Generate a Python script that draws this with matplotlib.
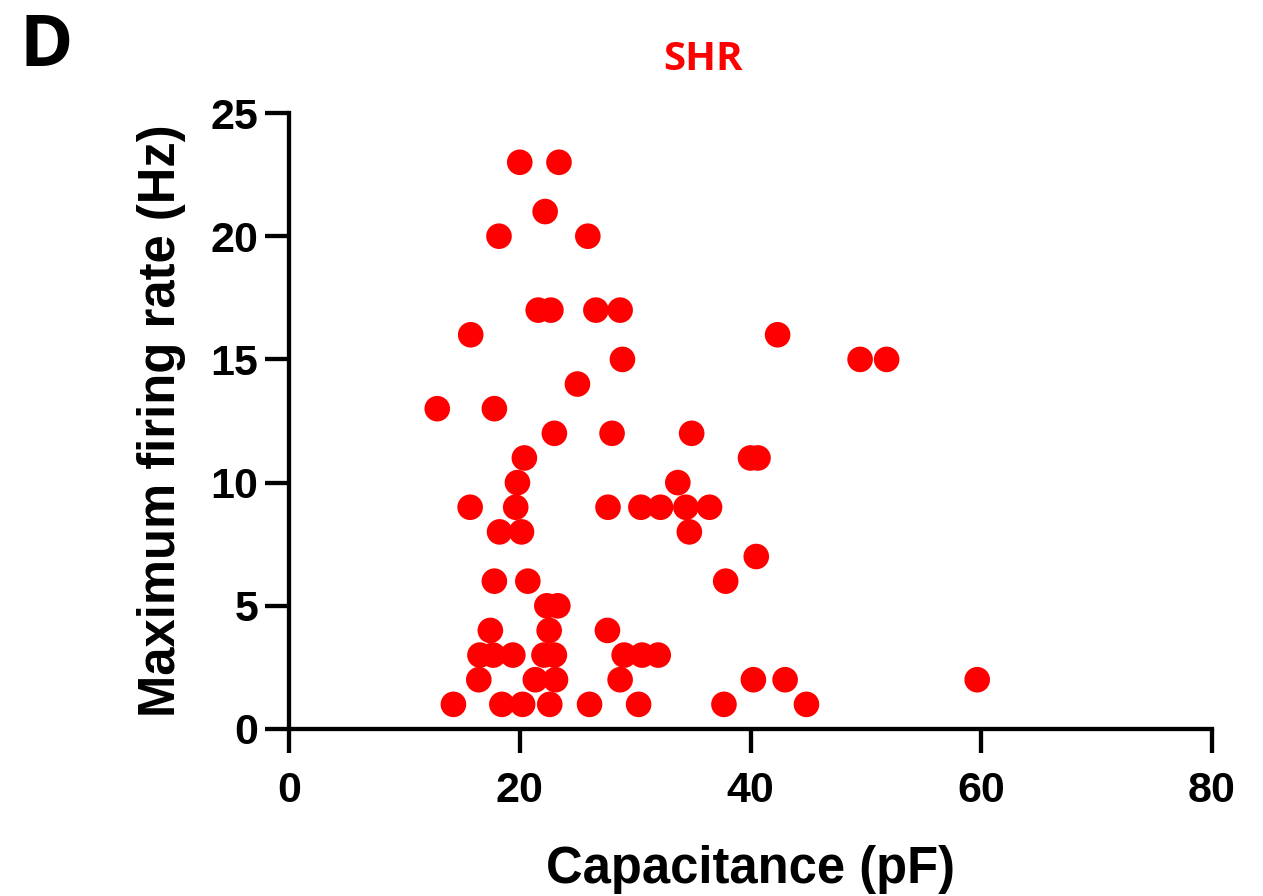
import matplotlib.pyplot as plt

# capacitance (pF) and maximum firing rate (Hz)
capacitance = [
    20.0, 23.4,
    22.2,
    18.2, 25.9,
    21.6, 22.7, 26.6, 28.7,
    15.75, 42.35,
    28.9, 49.5, 51.8,
    25.0,
    12.85, 17.8,
    23.0, 28.0, 34.9,
    20.4, 40.0, 40.65,
    19.8, 33.7,
    15.7, 19.65, 27.65, 30.5, 32.2, 34.4, 36.45,
    18.25, 20.15, 34.7,
    40.5,
    17.8, 20.7, 37.85,
    22.35, 23.3,
    17.45, 22.55, 27.6,
    16.55, 17.7, 19.4, 22.1, 23.0, 29.05, 30.6, 32.0,
    16.45, 21.35, 23.1, 28.7, 40.25, 43.0, 59.65,
    14.25, 18.45, 20.25, 22.6, 26.05, 30.3, 37.7, 44.85,
]
firing_rate = [
    23, 23,
    21,
    20, 20,
    17, 17, 17, 17,
    16, 16,
    15, 15, 15,
    14,
    13, 13,
    12, 12, 12,
    11, 11, 11,
    10, 10,
    9, 9, 9, 9, 9, 9, 9,
    8, 8, 8,
    7,
    6, 6, 6,
    5, 5,
    4, 4, 4,
    3, 3, 3, 3, 3, 3, 3, 3,
    2, 2, 2, 2, 2, 2, 2,
    1, 1, 1, 1, 1, 1, 1, 1,
]

x_ticks = [0, 20, 40, 60, 80]
y_ticks = [0, 5, 10, 15, 20, 25]

plt.rcParams['font.family'] = ['Liberation Sans', 'DejaVu Sans']
plt.rcParams['font.weight'] = 'bold'

fig = plt.figure(figsize=(12.63, 8.96), dpi=100)
ax = fig.add_axes([289 / 1263, 1 - 729 / 896, 923 / 1263, 616 / 896])

ax.scatter(capacitance, firing_rate, s=340, color='#ff0000', edgecolors='none',
           clip_on=False, zorder=3)

ax.set_xlim(0, 80)
ax.set_ylim(0, 25)
ax.set_xticks(x_ticks)
ax.set_yticks(y_ticks)

for side in ['top', 'right']:
    ax.spines[side].set_visible(False)
for side in ['left', 'bottom']:
    ax.spines[side].set_linewidth(3.1)
    ax.spines[side].set_capstyle('projecting')

ax.tick_params(axis='both', length=17, width=3.1, labelsize=31)
ax.tick_params(axis='x', pad=13)
ax.tick_params(axis='y', pad=5)
for lab in ax.get_xticklabels() + ax.get_yticklabels():
    lab.set_fontweight('bold')

ax.set_xlabel('Capacitance (pF)', fontsize=36.5, fontweight='bold')
ax.set_ylabel('Maximum firing rate (Hz)', fontsize=36.5, fontweight='bold')
ax.xaxis.set_label_coords(0.5, -0.188)
ax.yaxis.set_label_coords(-0.112, 0.5)

fig.text(703 / 1263, 1 - 60 / 896, 'SHR', color='#ff0000', fontsize=29,
         fontweight='bold', family=['Open Sans', 'DejaVu Sans'],
         ha='center', va='center')
fig.text(20 / 1263, 1 - 47 / 896, 'D', fontsize=52, fontweight='bold',
         family=['Open Sans', 'DejaVu Sans'], ha='left', va='center')

fig.savefig('out.png', dpi=100)
